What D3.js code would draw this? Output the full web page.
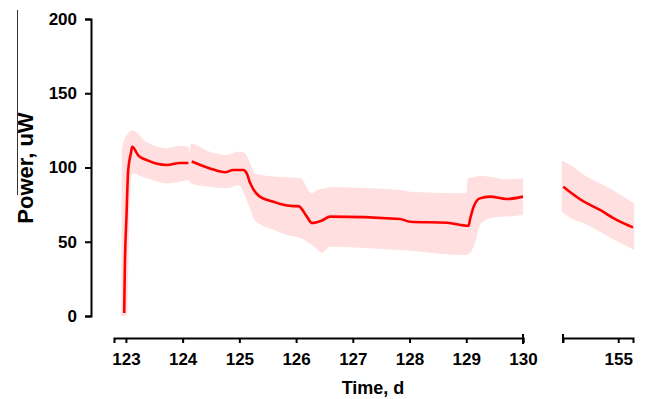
<!DOCTYPE html>
<html>
<head>
<meta charset="utf-8">
<script src="https://cdn.jsdelivr.net/npm/d3@7/dist/d3.min.js"></script>
<style>
    body { margin: 0; background: #fff; }
    text { font-family: "Liberation Sans", Arial, sans-serif; font-weight: bold; }
</style>
</head>
<body>
<svg id="chart" width="647" height="399"></svg>
<script>
// mean power, first recording block (days 123-130), null = gap
var meanTime = [122.97, 122.98, 123.01, 123.04, 123.09, 123.11, 123.22, 123.37, 123.55, 123.72, 123.95, 124.10, 124.13,
    124.16, 124.48, 124.75, 124.89, 125.07, 125.13, 125.19, 125.36, 125.60, 125.72, 125.95, 126.04, 126.19, 126.28,
    126.45, 126.60, 127.83, 128.01, 128.66, 129.04, 129.07, 129.13, 129.24, 129.42, 129.71, 130.0];
var meanPower = [2, 30, 67, 98, 110, 114, 108, 105, 102.5, 101.7, 103, 103, null,
    104, 99.4, 96.8, 98.3, 98.3, 96, 89.5, 80.4, 77, 75.4, 74, 74, 66.9, 62.6,
    64.2, 66.9, 65.3, 63.5, 62.8, 60.8, 65.7, 73.6, 79.2, 80.4, 78.8, 80.4];

// spread band, first block
var bandTime = [122.92, 122.93, 123.0, 123.02, 123.06, 123.09, 123.11, 123.37, 123.72, 123.95, 124.10, 124.12,
    124.15, 124.48, 124.77, 124.98, 125.09, 125.13, 125.19, 125.27, 125.60, 125.84, 126.07, 126.28, 126.37,
    126.45, 126.60, 127.83, 128.01, 129.00, 129.03, 129.13, 129.26, 129.47, 129.71, 130.0];
var bandHigh = [0, 112, 121, 122, 124, 125, 125, 117, 113, 114.5, 114, 110,
    116, 110.6, 108.4, 110.6, 110, 108, 102.8, 96, 94, 93.5, 93, 82.6, 84.8,
    85.5, 86.7, 84.8, 83.7, 82.6, 92.7, 93.5, 94.3, 93.5, 92, 92.7];
var bandLow = [0, 0, 0, 2, 65, 92, 96, 92.7, 89.3, 90.4, 91.6, 90.5,
    89.3, 87, 86, 88, 82, 78, 72, 64.6, 58, 54.5, 52.5, 47.8, 45,
    42.6, 46.7, 44.4, 44, 41, 41.5, 46.7, 62.4, 66.4, 67, 68];

// second block (around day 155)
var lateTime = [154.035, 154.33, 154.68, 154.98, 155.26];
var latePower = [87, 78.6, 71.4, 64.6, 59.7];
var lateBandTime = [154.01, 154.16, 154.40, 154.80, 155.28];
var lateBandHigh = [104.6, 101.7, 95, 87, 75.9];
var lateBandLow = [70.2, 66, 62.4, 54, 44.4];

var xTicks = [123, 124, 125, 126, 127, 128, 129, 130];
var lateTicks = [155];
var yTicks = [0, 50, 100, 150, 200];

var svg = d3.select("#chart");

var x1 = d3.scaleLinear().domain([122.79, 130]).range([114, 523]);
var x2 = d3.scaleLinear().domain([154.03, 155.26]).range([563, 633]);
var y = d3.scaleLinear().domain([0, 200]).range([316, 19]);

function zip(t, a, b) {
    return t.map(function(d, i) { return { t: d, v: a[i], lo: b ? b[i] : null }; });
}

function drawBlock(x, band, mean) {
    var area = d3.area()
        .x(function(d) { return x(d.t); })
        .y0(function(d) { return y(d.lo); })
        .y1(function(d) { return y(d.v); })
        .curve(d3.curveMonotoneX);

    var line = d3.line()
        .defined(function(d) { return d.v != null; })
        .x(function(d) { return x(d.t); })
        .y(function(d) { return y(d.v); })
        .curve(d3.curveMonotoneX);

    svg.append("path")
        .datum(band)
        .attr("d", area)
        .attr("fill", "#ffdfdf");

    svg.append("path")
        .datum(mean)
        .attr("d", line)
        .attr("fill", "none")
        .attr("stroke", "#ff0000")
        .attr("stroke-width", 2.6)
        .attr("stroke-linejoin", "round");
}

drawBlock(x1, zip(bandTime, bandHigh, bandLow), zip(meanTime, meanPower));
drawBlock(x2, zip(lateBandTime, lateBandHigh, lateBandLow), zip(lateTime, latePower));

// y axis
var yAxis = svg.append("g")
    .attr("transform", "translate(91,0)")
    .call(d3.axisLeft(y).tickValues(yTicks).tickSize(6).tickPadding(8));

// x axis, two pieces
var xAxis = svg.append("g")
    .attr("transform", "translate(0,338)")
    .call(d3.axisBottom(x1).tickValues(xTicks).tickFormat(d3.format("d"))
        .tickSizeOuter(0).tickSize(5).tickPadding(10));

var xAxis2 = svg.append("g")
    .attr("transform", "translate(0,338)")
    .call(d3.axisBottom(x2).tickValues(lateTicks).tickFormat(d3.format("d"))
        .tickSizeOuter(0).tickSize(5).tickPadding(10));

xAxis.append("line")
    .attr("x1", x1(130)).attr("x2", x1(130))
    .attr("y1", -4).attr("y2", 6);
xAxis2.append("line")
    .attr("x1", x2.range()[0]).attr("x2", x2.range()[0])
    .attr("y1", -4).attr("y2", 5);

svg.selectAll(".domain, .tick line, g > line")
    .attr("stroke", "#000")
    .attr("stroke-width", 2);

svg.selectAll(".tick text")
    .attr("fill", "#000")
    .style("font-size", "17px");

// titles
svg.append("text")
    .attr("x", 373)
    .attr("y", 394)
    .attr("text-anchor", "middle")
    .style("font-size", "18px")
    .text("Time, d");

svg.append("text")
    .attr("transform", "translate(33,168) rotate(-90)")
    .attr("text-anchor", "middle")
    .style("font-size", "22px")
    .text("Power, uW");

// thin rule left of the y title
svg.append("line")
    .attr("x1", 17.5).attr("x2", 17.5)
    .attr("y1", 10).attr("y2", 195)
    .attr("stroke", "#333")
    .attr("stroke-width", 1);
</script>
</body>
</html>
